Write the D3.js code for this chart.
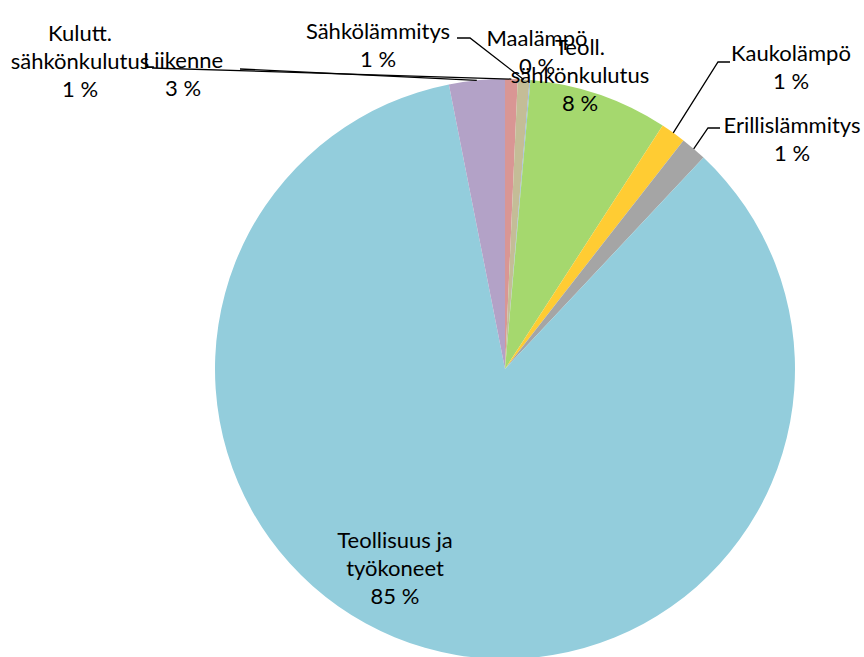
<!DOCTYPE html>
<html>
<head>
<meta charset="utf-8">
<script src="https://cdn.jsdelivr.net/npm/d3@7"></script>
<style>
  body { margin: 0; background: #fff; }
  text { font-family: Lato, "Open Sans", sans-serif; font-size: 22px; fill: #000; }
</style>
</head>
<body>
<script>
//data
var categories = ["Kulutt. sähkönkulutus", "Sähkölämmitys", "Maalämpö", "Teoll. sähkönkulutus",
                  "Kaukolämpö", "Erillislämmitys", "Teollisuus ja työkoneet", "Liikenne"];
var shares = [0.7, 0.65, 0.05, 7.75, 1.4, 1.45, 84.9, 3.1];
var colors = ["#D99694", "#C4BD97", "#8EB4E3", "#A5D86E", "#FFCC33", "#A5A5A5", "#93CDDC", "#B3A2C7"];

//label layout: text lines, centre x, first baseline, leader line start
var labelLayout = [
    {lines: ["Kulutt.", "sähkönkulutus"], x: 80, y: 41, lead: [[152, 68]]},
    {lines: ["Sähkölämmitys"], x: 378, y: 39, lead: [[457, 38], [470, 38]]},
    {lines: ["Maalämpö"], x: 537, y: 46, lead: null},
    {lines: ["Teoll.", "sähkönkulutus"], x: 580, y: 55, lead: null},
    {lines: ["Kaukolämpö"], x: 791, y: 61, lead: [[730, 62], [718, 62]]},
    {lines: ["Erillislämmitys"], x: 792, y: 133, lead: [[720, 128], [708, 128]]},
    {lines: ["Teollisuus ja", "työkoneet"], x: 395, y: 548, lead: null},
    {lines: ["Liikenne"], x: 183, y: 68, lead: [[240, 69]]}
];

var width = 864,
    height = 657,
    cx = 505,
    cy = 369,
    radius = 290,
    lineH = 28;

var svg = d3.select("body")
    .append("svg")
    .attr("width", width)
    .attr("height", height);

var pie = d3.pie()
    .sort(null)
    .value(function(d){ return d; });

var arcs = pie(shares);

var arc = d3.arc()
    .innerRadius(0)
    .outerRadius(radius);

var g = svg.append("g")
    .attr("transform", "translate(" + cx + "," + cy + ")");

g.selectAll(".slice")
    .data(arcs)
    .enter()
    .append("path")
    .attr("class", "slice")
    .attr("d", arc)
    .attr("fill", function(d, i){ return colors[i]; });

//leader lines end at the middle of each slice's outer edge
function edgePoint(d){
    var a = (d.startAngle + d.endAngle) / 2;
    return [cx + Math.sin(a) * radius, cy - Math.cos(a) * radius];
}

svg.selectAll(".leader")
    .data(arcs.filter(function(d, i){ return labelLayout[i].lead; }))
    .enter()
    .append("polyline")
    .attr("class", "leader")
    .attr("fill", "none")
    .attr("stroke", "#000")
    .attr("stroke-width", 1.3)
    .attr("points", function(d){
        var pts = labelLayout[d.index].lead.concat([edgePoint(d)]);
        return pts.map(function(p){ return p.join(","); }).join(" ");
    });

//labels
var labels = svg.selectAll(".label")
    .data(arcs)
    .enter()
    .append("text")
    .attr("class", "label")
    .attr("text-anchor", "middle");

labels.each(function(d, i){
    var lay = labelLayout[i];
    var t = d3.select(this);
    var rows = lay.lines.concat([Math.round(shares[i]) + " %"]);
    rows.forEach(function(r, k){
        t.append("tspan")
            .attr("x", lay.x)
            .attr("y", lay.y + k * lineH)
            .text(r);
    });
});
</script>
</body>
</html>
